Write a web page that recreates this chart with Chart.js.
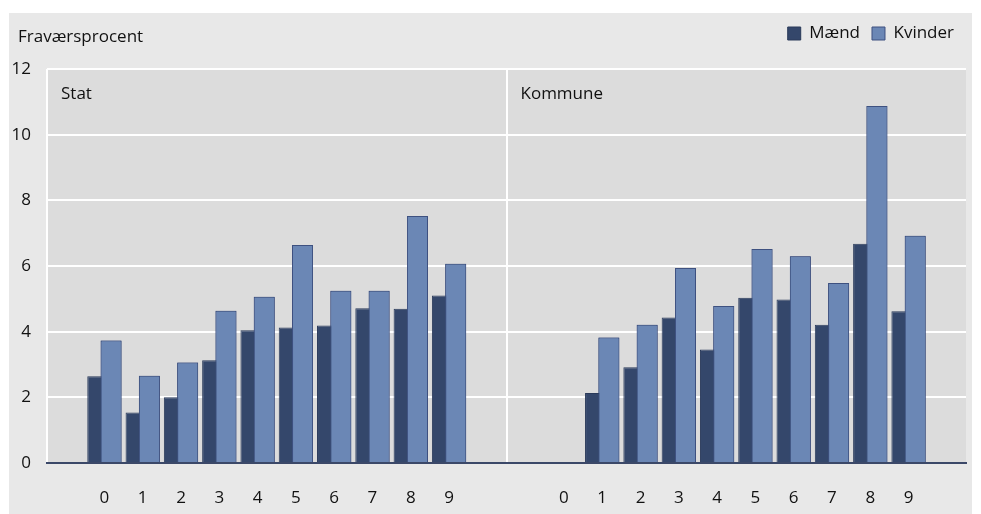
<!DOCTYPE html>
<html>
<head>
<meta charset="utf-8">
<script src="https://cdn.jsdelivr.net/npm/chart.js@4"></script>
<style>
  html, body { margin: 0; padding: 0; background: #fff; }
  #wrap { position: absolute; left: 9px; top: 13px; width: 963px; height: 501px; background: #e8e8e8; }
</style>
</head>
<body>
<div id="wrap"><canvas id="chart" width="963" height="501"></canvas></div>
<script>
// Data
const groups = ['0', '1', '2', '3', '4', '5', '6', '7', '8', '9'];
const panels = ['Stat', 'Kommune'];
const statMaend     = [2.64, 1.54, 2.00, 3.13, 4.04, 4.13, 4.19, 4.71, 4.70, 5.10];
const statKvinder   = [3.73, 2.66, 3.06, 4.64, 5.06, 6.64, 5.25, 5.25, 7.52, 6.07];
const kommuneMaend  = [null, 2.13, 2.92, 4.43, 3.46, 5.03, 4.98, 4.21, 6.68, 4.62];
const kommuneKvinder= [null, 3.82, 4.21, 5.94, 4.78, 6.52, 6.30, 5.48, 10.87, 6.92];
const yTicks = [0, 2, 4, 6, 8, 10, 12];

const FONT = "'Open Sans', sans-serif";
const MEN = '#34476b';
const WOMEN = '#6b87b5';

// each panel gets an empty slot on both sides
const labels = ['', ...groups, '', '', ...groups, ''];
const panelData = (a, b) => [null, ...a, null, null, ...b, null];

// background of plot area + panel names + y title
const decor = {
  id: 'decor',
  beforeDraw(chart) {
    const {ctx, chartArea: a} = chart;
    ctx.save();
    ctx.fillStyle = '#dcdcdc';
    ctx.fillRect(a.left, a.top, a.right - a.left, a.bottom - a.top);
    ctx.restore();
  },
  afterDatasetsDraw(chart) {
    // Kvinder bars sit in front of the Mænd bars
    chart.getDatasetMeta(1).controller.draw();
  },
  afterDraw(chart) {
    const {ctx, chartArea: a, scales} = chart;
    const half = (scales.x.getPixelForValue(1) - scales.x.getPixelForValue(0)) / 2;
    ctx.save();
    ctx.font = '17px ' + FONT;
    ctx.fillStyle = '#111';
    ctx.textBaseline = 'middle';
    ctx.fillText('Fraværsprocent', 9, 24);
    ctx.fillText(panels[0], a.left + 14, a.top + 25);
    ctx.fillText(panels[1], scales.x.getPixelForValue(12) - half + 14, a.top + 25);
    ctx.restore();
  }
};

new Chart(document.getElementById('chart'), {
  type: 'bar',
  data: {
    labels: labels,
    datasets: [
      { label: 'Mænd', data: panelData(statMaend, kommuneMaend), backgroundColor: MEN, borderColor: '#2a3a5a', borderWidth: 1 },
      { label: 'Kvinder', data: panelData(statKvinder, kommuneKvinder), backgroundColor: WOMEN, borderColor: '#3e5180', borderWidth: 1 }
    ]
  },
  options: {
    responsive: false,
    animation: false,
    categoryPercentage: 0.695,
    barPercentage: 1.58,
    layout: { padding: { left: 0, right: 6, top: 0, bottom: 0 } },
    plugins: {
      legend: {
        position: 'top',
        align: 'end',
        labels: { font: { family: FONT, size: 17 }, color: '#111', boxWidth: 13, boxHeight: 13, padding: 12 }
      },
      tooltip: { enabled: false }
    },
    scales: {
      x: {
        grid: {
          offset: true,
          drawTicks: false,
          lineWidth: 2,
          color: c => (c.index === 0 || c.index === 12 || c.index === 24) ? '#ffffff' : 'rgba(0,0,0,0)'
        },
        border: { color: '#3b4868', width: 2 },
        ticks: { font: { family: FONT, size: 17 }, color: '#111', padding: 25, autoSkip: false, maxRotation: 0 },
        afterFit: s => { s.height = 51; }
      },
      // empty spacer between legend and plot
      xTop: {
        position: 'top',
        grid: { display: false },
        border: { display: false },
        ticks: { display: false },
        afterFit: s => { s.height = 17; }
      },
      y: {
        min: 0,
        max: 12,
        afterBuildTicks: s => { s.ticks = yTicks.map(v => ({ value: v })); },
        grid: {
          drawTicks: false,
          lineWidth: 2,
          color: c => c.tick && c.tick.value === 0 ? 'rgba(0,0,0,0)' : '#ffffff'
        },
        border: { display: false },
        ticks: { font: { family: FONT, size: 17 }, color: '#111', padding: 16 },
        afterFit: s => { s.width = 38; }
      }
    }
  },
  plugins: [decor]
});
</script>
</body>
</html>
